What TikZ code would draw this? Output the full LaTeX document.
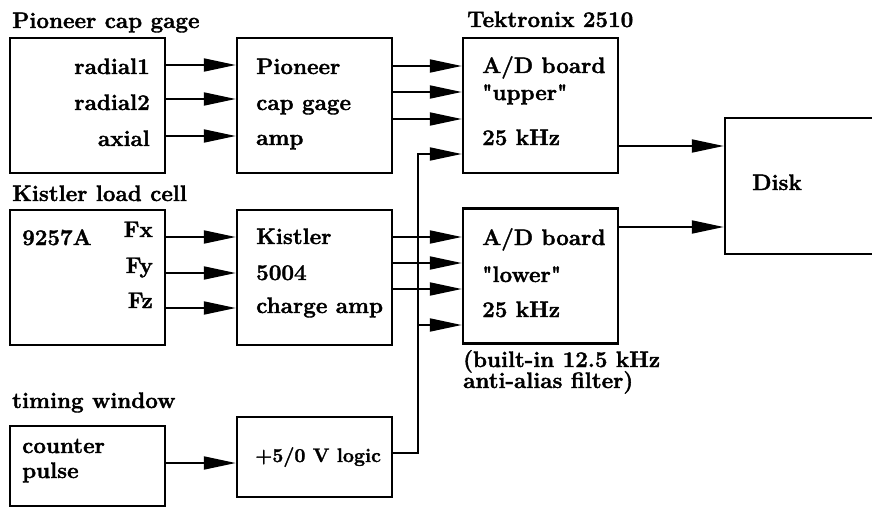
\documentclass[tikz,border=0pt]{standalone}
\usepackage{fontspec}
\setmainfont{Latin Modern Roman}[Ligatures=TeXOff, BoldFeatures={FakeBold=1.6}]
\usetikzlibrary{arrows.meta}

\begin{document}
\begin{tikzpicture}[
        x=1pt, y=-1pt,
        font=\fontsize{22.4}{26}\selectfont\bfseries,
        box/.style={draw, line width=2.5pt, minimum width=155pt, minimum height=135pt, inner sep=0pt},
        sig/.style={line width=2pt, -{Triangle[length=32pt, width=13pt]}},
        txt/.style={anchor=base west, inner sep=0pt},
        rtxt/.style={anchor=base east, inner sep=0pt},
    ]
        \useasboundingbox (0,0) rectangle (872,508);

        % Boxes
        \node[box] (pcell) at (87.5,105.5) {};
        \node[box] (pamp) at (314.5,105.5) {};
        \node[box] (adup) at (540.5,105.5) {};
        \node[box] (kcell) at (87.5,277.5) {};
        \node[box] (kamp) at (314.5,277.5) {};
        \node[box] (adlo) at (540.5,276) {};
        \node[box, minimum width=151pt, minimum height=136pt] (disk) at (800.5,186) {};
        \node[box, minimum height=80pt] (timer) at (87.5,466) {};
        \node[box, minimum height=80pt] (logic) at (314.5,457) {};

        % Titles
        \node[txt] (tpc) at (12,28) {Pioneer cap gage};
        \node[txt] (ttek) at (467,27) {Tektronix 2510};
        \node[txt] (tkc) at (12,201) {Kistler load cell};
        \node[txt] (ttw) at (12,408) {timing window};

        % Box texts
        \node[rtxt] (r1) at (150,74) {radial1};
        \node[rtxt] (r2) at (150,110) {radial2};
        \node[rtxt] (ax) at (150,146) {axial};
        \node[txt] at (256,74) {Pioneer};
        \node[txt] at (256,110) {cap gage};
        \node[txt] at (256,145) {amp};
        \node[txt] at (482,73) {A/D board};
        \node[txt] at (482,100) {"upper"};
        \node[txt] at (482,145) {25 kHz};
        \node[txt] (dsk) at (752,190) {Disk};
        \node[txt] at (22,245) {9257A};
        \node[rtxt] (fx) at (153,237) {Fx};
        \node[rtxt] (fy) at (153,273) {Fy};
        \node[rtxt] (fz) at (153,308) {Fz};
        \node[txt] at (256,244) {Kistler};
        \node[txt] at (256,280) {5004};
        \node[txt] at (256,313) {charge amp};
        \node[txt] at (482,245) {A/D board};
        \node[txt] at (482,282) {"lower"};
        \node[txt] at (482,317) {25 kHz};
        \node[txt] (note1) at (463,367) {(built-in 12.5 kHz};
        \node[txt] (note2) at (463,388) {anti-alias filter)};
        \node[txt] at (22,453) {counter};
        \node[txt] at (22,478) {pulse};
        \node[txt, font=\fontsize{19.6}{24}\selectfont\bfseries] at (255,462) {+5/0 V logic};

        % Signals
        \foreach \y in {65, 99, 136} \draw[sig] (pcell.east |- 0,\y) -- (pamp.west |- 0,\y);
        \foreach \y in {66, 92, 119} \draw[sig] (pamp.east |- 0,\y) -- (adup.west |- 0,\y);
        \foreach \y in {237, 273, 308} \draw[sig] (kcell.east |- 0,\y) -- (kamp.west |- 0,\y);
        \foreach \y in {237, 263, 289} \draw[sig] (kamp.east |- 0,\y) -- (adlo.west |- 0,\y);
        \draw[sig] (adup.east |- 0,146) -- (disk.west |- 0,146);
        \draw[sig] (adlo.east |- 0,227) -- (disk.west |- 0,227);
        \draw[sig] (timer.east |- 0,463) -- (logic.west |- 0,463);

        % Trigger bus
        \coordinate (bus) at (418,0);
        \draw[sig] (logic.east |- 0,453) -| (bus |- 0,154) -- (adup.west |- 0,154);
        \draw[sig] (bus |- 0,325) -- (adlo.west |- 0,325);
    \end{tikzpicture}
\end{document}
